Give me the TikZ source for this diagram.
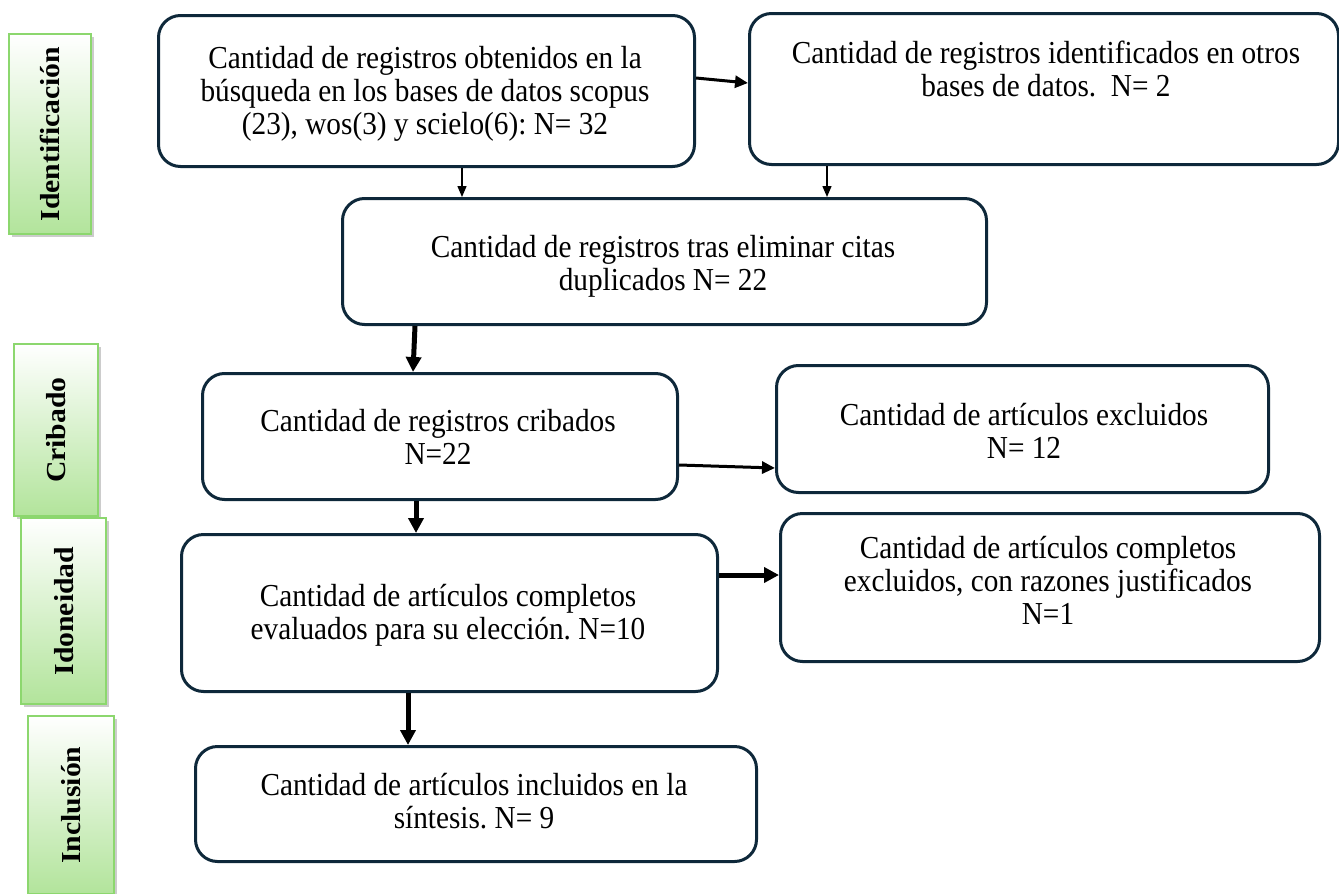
\documentclass[tikz,border=0pt]{standalone}
\usepackage{fontspec}
\setmainfont{Liberation Serif}[FakeStretch=0.915]
\newfontfamily\labfont{Liberation Serif}[FakeStretch=1.08]
\usetikzlibrary{arrows.meta,shadows}
\definecolor{navy}{RGB}{14,40,58}
\definecolor{lgreen}{RGB}{140,215,110}
\definecolor{gbot}{RGB}{178,228,155}
\frenchspacing
\begin{document}
\begin{tikzpicture}[x=1pt,y=-1pt,
  box/.style={draw=navy, line width=3pt, rounded corners=22pt, anchor=north west, inner sep=0pt},
  txt/.style={align=center, anchor=north, inner sep=0pt, font=\fontsize{32}{33}\selectfont},
  labbox/.style={draw=lgreen, line width=2.2pt, top color=white, bottom color=gbot,
    drop shadow={shadow xshift=3pt, shadow yshift=-3pt, fill=black!40, opacity=0.5},
    anchor=north west, inner sep=0pt},
  labtxt/.style={rotate=90, inner sep=0pt, font=\labfont\fontsize{27.5}{30}\selectfont\bfseries},
  thinarr/.style={-{Triangle[length=11pt,width=9pt]}, line width=1.4pt},
  medarr/.style={-{Triangle[length=13pt,width=12pt]}, line width=3pt},
  thickarr/.style={-{Triangle[length=15pt,width=15pt]}, line width=5pt},
]
\useasboundingbox (0,0) rectangle (1339,894);

% phase labels
\node[labbox, minimum width=82pt, minimum height=200pt] (L1) at (8,33) {};
\node[labtxt] (T1) at (L1.center) {Identificación};
\node[labbox, minimum width=84pt, minimum height=172pt] (L2) at (13,343) {};
\node[labtxt] (T2) at (L2.center) {Cribado};
\node[labbox, minimum width=85pt, minimum height=186pt] (L3) at (20,517) {};
\node[labtxt] (T3) at (L3.center) {Idoneidad};
\node[labbox, minimum width=86pt, minimum height=178pt] (L4) at (27,715) {};
\node[labtxt] (T4) at (L4.center) {Inclusión};

% boxes
\node[box, minimum width=536pt, minimum height=151pt] (A) at (157,14) {};
\node[box, minimum width=589pt, minimum height=151pt] (B) at (748,12) {};
\node[box, minimum width=644pt, minimum height=126pt] (C) at (341,197) {};
\node[box, minimum width=475pt, minimum height=126pt] (D) at (201,372) {};
\node[box, minimum width=492pt, minimum height=127pt] (E) at (775,364) {};
\node[box, minimum width=536pt, minimum height=157pt] (F) at (180,533) {};
\node[box, minimum width=539pt, minimum height=148pt] (G) at (779,512) {};
\node[box, minimum width=561pt, minimum height=115pt] (H) at (194,745) {};

% texts
\node[txt] (tA) at (425,45) {\strut Cantidad de registros obtenidos en la\\búsqueda en los bases de datos scopus\\(23), wos(3) y scielo(6): N= 32};
\node[txt] (tB) at (1046,40) {\strut Cantidad de registros identificados en otros\\bases de datos.\ \ N= 2};
\node[txt] (tC) at (663,234) {\strut Cantidad de registros tras eliminar citas\\duplicados N= 22};
\node[txt] (tD) at (438,408) {\strut Cantidad de registros cribados\\N=22};
\node[txt] (tE) at (1024,402) {\strut Cantidad de artículos excluidos\\N= 12};
\node[txt] (tF) at (448,583) {\strut Cantidad de artículos completos\\evaluados para su elección. N=10};
\node[txt] (tG) at (1048,535) {\strut Cantidad de artículos completos\\excluidos, con razones justificados\\N=1};
\node[txt] (tH) at (474,772) {\strut Cantidad de artículos incluidos en la\\síntesis. N= 9};

% helper coordinates
\coordinate (yAB1) at (0,78);
\coordinate (yAB2) at (0,83);
\coordinate (xAC) at (462,0);
\coordinate (xBC) at (827,0);
\coordinate (xCD1) at (415,0);
\coordinate (xCD2) at (413,0);
\coordinate (yDE1) at (0,465);
\coordinate (yDE2) at (0,468);
\coordinate (xDF) at (416,0);
\coordinate (yFG) at (0,575);
\coordinate (xFH) at (408,0);

% connectors
\draw[medarr] (A.east |- yAB1) -- (B.west |- yAB2);
\draw[thinarr] (A.south -| xAC) -- (C.north -| xAC);
\draw[thinarr] (B.south -| xBC) -- (C.north -| xBC);
\draw[thickarr] (C.south -| xCD1) -- (D.north -| xCD2);
\draw[medarr] (D.east |- yDE1) -- (E.west |- yDE2);
\draw[thickarr] (D.south -| xDF) -- (F.north -| xDF);
\draw[thickarr] (F.east |- yFG) -- (G.west |- yFG);
\draw[thickarr] (F.south -| xFH) -- (H.north -| xFH);
\end{tikzpicture}
\end{document}
